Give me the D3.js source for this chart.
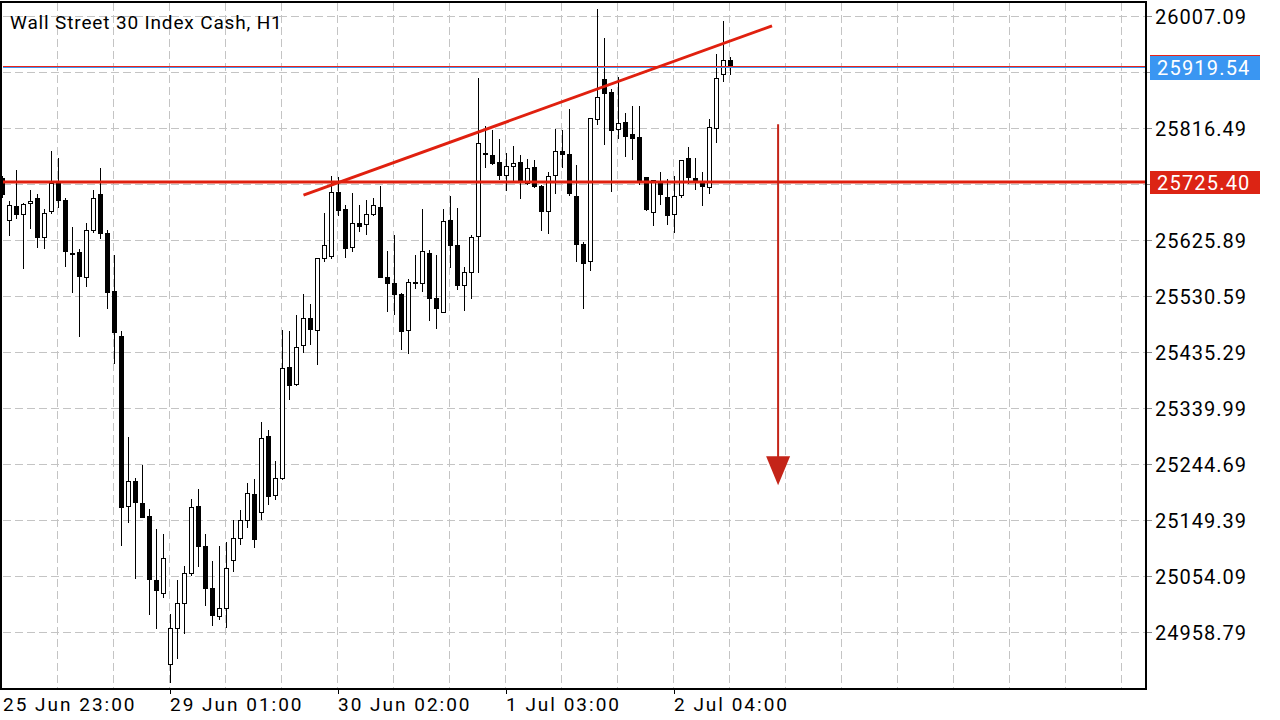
<!DOCTYPE html>
<html><head><meta charset="utf-8">
<script src="https://cdn.jsdelivr.net/npm/d3@7"></script>
<style>
html,body{margin:0;padding:0;background:#fff;overflow:hidden;}
svg{display:block;}
text{font-family:Roboto,"Noto Sans",sans-serif;}
</style></head><body>
<svg id="c" width="1280" height="720"></svg>
<script>
const title = "Wall Street 30 Index Cash, H1";
const opens = [25731.96,25659.97,25684.31,25670.19,25688.91,25697.41,25630.36,25675.29,25725.15,25694.52,
25603.81,25606.03,25562.97,25642.27,25704.73,25638.36,25539.66,25463.59,25173.26,25216.31,
25178.36,25156.75,25047.84,25025.20,24904.37,24965.64,25008.18,25059.24,25173.77,25105.70,
25033.71,24986.06,24999.68,25081.87,25119.31,25149.94,25194.19,25163.56,25292.90,25191.30,
25220.91,25410.83,25380.20,25447.25,25493.20,25472.09,25594.62,25598.03,25707.62,25679.20,
25614.02,25654.87,25653.17,25670.19,25682.10,25562.97,25552.76,25534.04,25472.09,25554.46,
25552.76,25603.81,25527.74,25503.07,25659.97,25617.94,25548.68,25571.48,25632.06,25773.99,
25771.10,25759.19,25735.87,25751.87,25759.19,25722.94,25750.68,25718.35,25674.61,25736.55,
25777.91,25772.80,25701.33,25620.15,25589.52,25831.86,25900.44,25878.31,25814.16,25827.26,
25806.84,25801.73,25733.66,25673.59,25723.96,25699.63,25670.19,25701.84,25765.49,25731.45,
25725.15,25716.13,25816.54,25908.44,25932.26];
const highs = [25735.36,25692.82,25745.58,25689.42,25711.54,25704.73,25679.20,25777.91,25765.49,25697.92,
25648.06,25611.64,25655.38,25711.54,25748.98,25643.47,25600.92,25471.58,25290.68,25221.42,
25243.54,25168.15,25134.12,25126.12,24989.97,25047.84,25071.66,25185.17,25202.19,25126.12,
25080.17,25105.70,25113.01,25149.94,25166.96,25212.91,25219.72,25316.21,25303.11,25250.35,
25473.29,25471.58,25498.81,25534.55,25517.53,25595.31,25672.40,25735.36,25733.15,25686.01,
25706.43,25686.01,25694.52,25697.41,25718.35,25607.73,25634.45,25536.25,25560.08,25600.92,
25679.20,25609.43,25600.92,25679.20,25701.33,25680.91,25580.50,25634.96,25902.14,25820.45,
25813.65,25798.33,25773.99,25786.42,25771.10,25764.29,25762.59,25720.05,25741.66,25815.35,
25813.65,25849.38,25754.08,25623.04,25834.07,26019.56,25970.21,25883.93,25903.33,25842.07,
25854.49,25854.49,25733.66,25728.56,25741.66,25730.26,25735.36,25762.08,25784.72,25765.49,
25741.66,25832.37,25942.98,25998.63,25937.37];
const lows = [25697.93,25633.77,25662.70,25576.59,25644.66,25613.34,25610.62,25670.19,25681.42,25581.01,
25536.76,25461.88,25546.97,25638.87,25628.15,25509.53,25414.91,25106.21,25145.35,25050.05,
25153.86,24988.27,24964.96,25017.20,24873.06,24913.90,24955.94,25054.64,25070.47,25003.59,
24970.06,24979.76,24965.64,25061.45,25107.40,25136.33,25102.29,25149.94,25175.47,25183.98,
25218.02,25354.16,25377.99,25434.66,25448.27,25413.72,25589.52,25593.60,25667.80,25596.33,
25606.54,25640.57,25634.96,25667.29,25562.29,25504.43,25498.81,25439.25,25432.44,25542.55,
25537.95,25489.11,25474.48,25502.22,25578.29,25541.36,25506.13,25526.55,25570.80,25749.49,
25754.08,25728.56,25709.84,25722.94,25696.73,25720.05,25714.43,25642.27,25637.17,25705.24,
25749.49,25701.33,25589.52,25509.53,25574.20,25822.16,25788.12,25708.13,25797.82,25768.21,
25762.59,25720.05,25676.31,25650.78,25686.52,25651.98,25637.85,25698.43,25721.75,25711.54,
25684.82,25704.73,25792.03,25895.84,25907.76];
const closes = [25703.03,25685.50,25669.51,25687.71,25692.31,25630.36,25672.40,25723.45,25692.31,25606.54,
25601.43,25563.99,25643.47,25697.41,25636.15,25536.76,25468.69,25169.86,25215.80,25179.39,
25153.86,25048.35,25029.63,25084.77,24965.64,25008.18,25059.24,25171.56,25104.51,25033.03,
24987.08,24999.68,25067.75,25119.31,25149.94,25195.89,25115.91,25288.98,25189.60,25220.91,
25408.11,25378.50,25443.84,25493.20,25473.80,25595.31,25617.43,25707.62,25676.31,25611.64,
25654.87,25649.08,25670.19,25685.50,25562.29,25552.08,25533.36,25470.39,25554.46,25552.08,
25607.73,25526.55,25509.53,25658.27,25616.75,25548.68,25571.48,25631.04,25791.52,25773.50,
25756.30,25735.87,25751.87,25756.98,25727.36,25748.47,25717.15,25674.61,25734.85,25777.40,
25771.61,25704.73,25617.94,25586.12,25834.07,25869.29,25875.42,25812.45,25825.56,25802.24,
25798.84,25725.66,25677.50,25728.56,25703.03,25667.80,25700.82,25762.08,25732.47,25725.15,
25717.15,25818.24,25901.63,25932.26,25919.54];

const priceTicks = [26007.09,25911.79,25816.49,25721.19,25625.89,25530.59,25435.29,25339.99,25244.69,25149.39,25054.09,24958.79];
const timeLabels = ["25 Jun 23:00","29 Jun 01:00","30 Jun 02:00","1 Jul 03:00","2 Jul 04:00"];
const timeLabelBars = [0,24,48,72,96];
const levelPrice = 25725.40;
const bidPrice = 25919.54;
const askPrice = 25922.5;
const trendBars = [43.0, 109.93];
const trendPrices = [25703.03, 25991.14];
const arrowBar = 110.8;
const arrowPrices = [25823.86, 25209.51];

const svg = d3.select("#c");
const W = 1280, H = 720;
const plotL = 1, plotT = 2, plotR = 1146, plotB = 689;

const x = d3.scaleLinear().domain([0, 160]).range([2.5, 2.5 + 7*160]);
const y = d3.scaleLinear().domain([24958.79, 26007.09]).range([632.5, 16.5]);

svg.append("rect").attr("width", W).attr("height", H).attr("fill", "#fff");

// grid
const grid = svg.append("g").attr("stroke", "#c4c4c4").attr("stroke-width", 1)
  .attr("stroke-dasharray", "8,4").attr("shape-rendering", "crispEdges");
grid.selectAll("line.h").data(priceTicks).join("line").attr("class","h")
  .attr("x1", 3).attr("x2", plotR - 1)
  .attr("y1", d => y(d)).attr("y2", d => y(d));
const vBars = d3.range(8, 161, 8);
grid.selectAll("line.v").data(vBars).join("line").attr("class","v")
  .attr("x1", d => x(d) - 1).attr("x2", d => x(d) - 1)
  .attr("y1", 3).attr("y2", plotB - 1);

// candles
const data = opens.map((o, i) => ({i, o, h: highs[i], l: lows[i], c: closes[i]}));
const cg = svg.append("g").attr("shape-rendering", "crispEdges");
cg.selectAll("line.wick").data(data).join("line").attr("class","wick")
  .attr("x1", d => x(d.i)).attr("x2", d => x(d.i))
  .attr("y1", d => y(d.h)).attr("y2", d => y(d.l))
  .attr("stroke", "#000").attr("stroke-width", 1);
cg.selectAll("rect.body").data(data).join("rect").attr("class","body")
  .each(function(d) {
    const s = d3.select(this);
    const top = y(Math.max(d.o, d.c)), bot = y(Math.min(d.o, d.c));
    if (d.c >= d.o) {
      s.attr("x", x(d.i) - 2).attr("width", 4)
       .attr("y", top).attr("height", Math.max(1, bot - top))
       .attr("fill", "#fff").attr("stroke", "#000").attr("stroke-width", 1);
    } else {
      s.attr("x", x(d.i) - 2.5).attr("width", 5)
       .attr("y", top).attr("height", Math.max(1.5, bot - top))
       .attr("fill", "#000");
    }
  });

// ask / bid lines
svg.append("line").attr("x1", 3).attr("x2", plotR).attr("y1", y(askPrice)).attr("y2", y(askPrice))
  .attr("stroke", "#e8231a").attr("stroke-width", 1).attr("shape-rendering","crispEdges");
svg.append("line").attr("x1", 3).attr("x2", plotR).attr("y1", y(bidPrice)).attr("y2", y(bidPrice))
  .attr("stroke", "#3a96f2").attr("stroke-width", 1).attr("shape-rendering","crispEdges");

// support level
svg.append("line").attr("x1", 3).attr("x2", plotR).attr("y1", y(levelPrice)).attr("y2", y(levelPrice))
  .attr("stroke", "#e0200f").attr("stroke-width", 3);

// trend line
svg.append("line")
  .attr("x1", x(trendBars[0])).attr("y1", y(trendPrices[0]))
  .attr("x2", x(trendBars[1])).attr("y2", y(trendPrices[1]))
  .attr("stroke", "#e0200f").attr("stroke-width", 3);

// arrow
const ax = x(arrowBar);
const ay1 = y(arrowPrices[0]), ay2 = y(arrowPrices[1]);
svg.append("line").attr("x1", ax).attr("x2", ax).attr("y1", ay1).attr("y2", ay2 - 26)
  .attr("stroke", "#c42418").attr("stroke-width", 2);
svg.append("path")
  .attr("d", `M${ax-12},${ay2-29} L${ax+12},${ay2-29} L${ax},${ay2} Z`)
  .attr("fill", "#c42418");

// frame
svg.append("rect").attr("x", plotL).attr("y", plotT).attr("width", plotR - plotL).attr("height", plotB - plotT)
  .attr("fill", "none").attr("stroke", "#000").attr("stroke-width", 2).attr("shape-rendering","crispEdges");

// right axis ticks + labels (labels hidden under price tags are not drawn, as in the reference)
const tagPrices = [bidPrice, levelPrice];
const visibleTicks = priceTicks.filter(p => tagPrices.every(t => Math.abs(y(p) - y(t)) > 20));
const ra = svg.append("g");
ra.selectAll("line").data(priceTicks).join("line")
  .attr("x1", plotR + 1).attr("x2", plotR + 6)
  .attr("y1", d => y(d)).attr("y2", d => y(d))
  .attr("stroke", "#888").attr("shape-rendering","crispEdges");
ra.selectAll("text").data(visibleTicks).join("text")
  .attr("x", 1155).attr("y", d => y(d) + 7.5)
  .attr("font-size", 20).attr("letter-spacing", "1px").attr("fill", "#000")
  .text(d => d.toFixed(2));

// price tags
function tag(price, color, label) {
  const yy = y(price);
  svg.append("rect").attr("x", 1150).attr("y", yy - 11.5).attr("width", 110).attr("height", 23.5)
    .attr("fill", color).attr("shape-rendering","crispEdges");
  if (label) svg.append("text").attr("x", 1157).attr("y", yy + 7.5)
    .attr("font-size", 20).attr("letter-spacing", "1.2px").attr("fill", "#fff").text(label);
}
tag(askPrice, "#e8231a", null);
tag(bidPrice, "#3a96f2", bidPrice.toFixed(2));
tag(levelPrice, "#dc2414", levelPrice.toFixed(2));

// bottom axis
const ba = svg.append("g");
ba.selectAll("line").data(timeLabelBars.slice(1)).join("line")
  .attr("x1", d => x(d) - 0.5).attr("x2", d => x(d) - 0.5)
  .attr("y1", plotB).attr("y2", plotB + 5)
  .attr("stroke", "#000").attr("shape-rendering","crispEdges");
ba.selectAll("text").data(timeLabels).join("text")
  .attr("x", (d, i) => Math.max(3, x(timeLabelBars[i]) - 0.5))
  .attr("y", 711)
  .attr("font-size", 19).attr("letter-spacing", "2px").attr("fill", "#000")
  .text(d => d);

// title
svg.append("text").attr("x", 10).attr("y", 29).attr("font-size", 19)
  .attr("letter-spacing", "0.85px").attr("fill", "#000").text(title);
</script>
</body></html>
